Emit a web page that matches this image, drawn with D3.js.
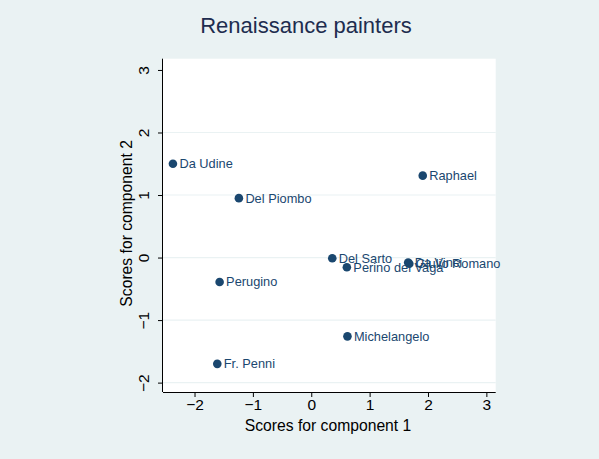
<!DOCTYPE html>
<html>
<head>
<meta charset="utf-8">
<script src="https://cdn.jsdelivr.net/npm/d3@7"></script>
<style>
  html, body { margin: 0; padding: 0; background: #eaf2f3; }
  svg { display: block; }
  text { font-family: "Liberation Sans", Arial, Helvetica, sans-serif; }
</style>
</head>
<body>
<svg id="chart" width="599" height="459"></svg>
<script>
const painters = ["Da Udine", "Raphael", "Del Piombo", "Del Sarto", "Perino del Vaga", "Da Vinci", "Giulio Romano", "Perugino", "Michelangelo", "Fr. Penni"];
const score1 = [-2.37, 1.91, -1.24, 0.36, 0.61, 1.66, 1.68, -1.57, 0.62, -1.61];
const score2 = [1.50, 1.31, 0.95, -0.01, -0.155, -0.08, -0.10, -0.39, -1.26, -1.70];
const xTicks = [-2, -1, 0, 1, 2, 3];
const yTicks = [-2, -1, 0, 1, 2, 3];
const yGrid = [-2, -1, 0, 1, 2];
const titleText = "Renaissance painters";
const xTitle = "Scores for component 1";
const yTitle = "Scores for component 2";

const W = 599, H = 459;
const plot = { left: 163, right: 495.7, top: 58.7, bottom: 392 };
const navy = "#1a476f";
const bg = "#eaf2f3";

const svg = d3.select("#chart");
svg.append("rect").attr("width", W).attr("height", H).attr("fill", bg);

const x = d3.scaleLinear().domain([-2.54, 3.16]).range([plot.left, plot.right]);
const y = d3.scaleLinear().domain([-2.15, 3.18]).range([plot.bottom, plot.top]);

svg.append("rect")
  .attr("x", plot.left).attr("y", plot.top)
  .attr("width", plot.right - plot.left).attr("height", plot.bottom - plot.top)
  .attr("fill", "#ffffff");

// gridlines
svg.append("g").selectAll("line").data(yGrid).join("line")
  .attr("x1", plot.left).attr("x2", plot.right)
  .attr("y1", d => y(d)).attr("y2", d => y(d))
  .attr("stroke", bg).attr("stroke-width", 1.2);

// x axis
const xAxis = svg.append("g")
  .attr("transform", `translate(0,${plot.bottom})`)
  .call(d3.axisBottom(x).tickValues(xTicks).tickSize(5).tickPadding(2)
    .tickFormat(d => d < 0 ? "\u2212" + Math.abs(d) : d));
xAxis.select(".domain").attr("d", `M${plot.left},0.5H${plot.right}`).attr("stroke", "#000").attr("stroke-width", 1);
xAxis.selectAll(".tick line").attr("stroke", "#000");
xAxis.selectAll(".tick text").attr("font-size", 15.5).attr("fill", "#000");

// y axis
const yAxis = svg.append("g")
  .attr("transform", `translate(${plot.left},0)`)
  .call(d3.axisLeft(y).tickValues(yTicks).tickSize(5).tickPadding(3)
    .tickFormat(d => d < 0 ? "\u2212" + Math.abs(d) : d));
yAxis.select(".domain").attr("d", `M-0.5,${plot.top}V${plot.bottom}`).attr("stroke", "#000").attr("stroke-width", 1);
yAxis.selectAll(".tick line").attr("stroke", "#000");
yAxis.selectAll(".tick text")
  .attr("font-size", 15.5).attr("fill", "#000")
  .attr("x", null).attr("dy", null)
  .attr("text-anchor", "middle")
  .attr("transform", "translate(-14,0) rotate(-90)");

// titles
svg.append("text").attr("x", 306).attr("y", 33)
  .attr("text-anchor", "middle").attr("font-size", 22).attr("fill", "#1e2d4f")
  .text(titleText);
svg.append("text").attr("x", 328).attr("y", 431)
  .attr("text-anchor", "middle").attr("font-size", 15.7).attr("fill", "#000")
  .text(xTitle);
svg.append("text")
  .attr("transform", `translate(132,${(plot.top + plot.bottom) / 2 - 2}) rotate(-90)`)
  .attr("text-anchor", "middle").attr("font-size", 15.7).attr("fill", "#000")
  .text(yTitle);

// points
const data = painters.map((p, i) => ({ name: p, s1: score1[i], s2: score2[i] }));
const g = svg.append("g");
g.selectAll("circle").data(data).join("circle")
  .attr("cx", d => x(d.s1)).attr("cy", d => y(d.s2))
  .attr("r", 4.3).attr("fill", navy);
g.selectAll("text").data(data).join("text")
  .attr("x", d => x(d.s1) + 6.5).attr("y", d => y(d.s2))
  .attr("dy", "0.35em")
  .attr("font-size", 12.8).attr("fill", navy)
  .text(d => d.name);
</script>
</body>
</html>
